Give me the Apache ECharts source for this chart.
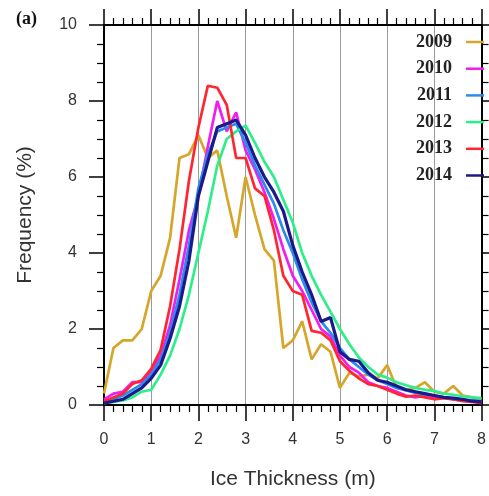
<!DOCTYPE html>
<html>
<head>
<meta charset="utf-8">
<script src="https://cdn.jsdelivr.net/npm/echarts@6/dist/echarts.min.js"></script>
<style>
html,body{margin:0;padding:0;background:#fff;}
#c{width:489px;height:496px;}
</style>
</head>
<body>
<div id="c"></div>
<script>
// Ice thickness bins (m)
var xs = [0,0.2,0.4,0.6,0.8,1.0,1.2,1.4,1.6,1.8,2.0,2.2,2.4,2.6,2.8,3.0,3.2,3.4,3.6,3.8,4.0,4.2,4.4,4.6,4.8,5.0,5.2,5.4,5.6,5.8,6.0,6.2,6.4,6.6,6.8,7.0,7.2,7.4,7.6,7.8,8.0];
var years = ['2009','2010','2011','2012','2013','2014'];
var colors = ['#D6A62A','#F21CF2','#2A8CEE','#2EEE8A','#FF2630','#1A1A8A'];
var xTicks = [0,1,2,3,4,5,6,7,8];
var yTicks = [0,2,4,6,8,10];

var f2009 = [0.3,1.5,1.7,1.7,2.0,3.0,3.4,4.4,6.5,6.6,7.1,6.5,6.7,5.5,4.4,6.0,5.0,4.1,3.8,1.5,1.7,2.2,1.2,1.6,1.4,0.45,0.85,0.75,0.8,0.7,1.05,0.45,0.4,0.45,0.6,0.35,0.3,0.5,0.25,0.2,0.15];
var f2010 = [0.15,0.3,0.35,0.6,0.6,0.9,1.3,2.1,3.3,4.6,5.5,6.8,8.0,7.2,7.7,6.7,6.2,5.6,4.9,4.1,3.4,3.0,2.5,2.0,1.8,1.3,1.0,0.85,0.6,0.5,0.45,0.35,0.25,0.2,0.25,0.2,0.2,0.15,0.12,0.1,0.08];
var f2011 = [0.08,0.15,0.25,0.4,0.55,0.8,1.2,1.9,2.9,4.2,5.7,6.6,7.2,7.3,7.4,6.9,6.3,5.8,5.3,4.6,4.0,3.3,2.7,2.2,1.9,1.5,1.2,1.0,0.8,0.65,0.55,0.45,0.38,0.32,0.28,0.25,0.2,0.17,0.14,0.12,0.1];
var f2012 = [0.05,0.08,0.12,0.2,0.35,0.4,0.8,1.3,2.0,2.9,4.0,5.1,6.3,7.0,7.2,7.35,6.9,6.4,6.0,5.4,4.8,4.0,3.4,2.9,2.45,2.0,1.6,1.25,1.0,0.8,0.72,0.6,0.52,0.45,0.4,0.37,0.3,0.27,0.23,0.2,0.18];
var f2013 = [0.1,0.2,0.3,0.55,0.65,0.95,1.45,2.6,4.1,5.9,7.3,8.4,8.35,7.9,6.5,6.5,5.7,5.5,4.6,3.4,3.0,2.9,1.95,1.9,1.7,1.15,0.9,0.7,0.55,0.5,0.4,0.3,0.22,0.25,0.2,0.15,0.18,0.15,0.1,0.08,0.05];
var f2014 = [0.05,0.1,0.15,0.3,0.45,0.7,1.05,1.75,2.6,3.8,5.5,6.4,7.3,7.4,7.5,7.1,6.5,6.0,5.6,5.1,4.2,3.5,2.9,2.2,2.3,1.4,1.2,1.15,0.85,0.65,0.6,0.5,0.4,0.35,0.3,0.25,0.2,0.18,0.15,0.1,0.08];

var all = [f2009,f2010,f2011,f2012,f2013,f2014];

var chart = echarts.init(document.getElementById('c'), null, {renderer:'canvas'});

function pairs(arr){ return xs.map(function(x,i){ return [x, arr[i]]; }); }

var series = years.map(function(y, k){
  return {
    name: y, type: 'line', data: pairs(all[k]),
    symbol: 'none', smooth: false, z: 2 + k,
    lineStyle: {color: colors[k], width: k === 5 ? 3.2 : 2.7},
    itemStyle: {color: colors[k]}
  };
});

var axisBase = {
  type: 'value',
  axisLine: {show: true, onZero: false, lineStyle: {color: '#000', width: 2}},
  axisTick: {show: true, inside: false, lineStyle: {color: '#000', width: 1.5}},
  minorTick: {show: true, lineStyle: {color: '#000', width: 1.2}},
  minorSplitLine: {show: false}
};

function merge(a, b){ var o = JSON.parse(JSON.stringify(a)); for (var k in b) o[k] = b[k]; return o; }

var option = {
  backgroundColor: '#fff',
  animation: false,
  graphic: [{
    type: 'text', left: 16, top: 10,
    style: {text: '(a)', font: 'bold 18px "Liberation Serif"', fill: '#111'}
  }],
  legend: {
    orient: 'vertical', right: 0, top: 28, align: 'right',
    icon: 'rect', itemWidth: 18, itemHeight: 2.5, itemGap: 8.7,
    data: years,
    textStyle: {fontFamily: 'Liberation Serif', fontWeight: 'bold', fontSize: 18, color: '#222', lineHeight: 18, padding: [0, 9, 0, 0]}
  },
  grid: {left: 104, right: 5, top: 25, bottom: 91, containLabel: false},
  xAxis: [
    merge(axisBase, {
      position: 'bottom', min: xTicks[0], max: xTicks[xTicks.length-1], interval: 1,
      axisTick: {show: true, inside: false, length: 16, lineStyle: {color: '#000', width: 1.5}},
      minorTick: {show: true, splitNumber: 5, length: 7, lineStyle: {color: '#000', width: 1.2}},
      splitLine: {show: true, lineStyle: {color: '#9a9a9a', width: 1}},
      axisLabel: {show: true, margin: 27, fontSize: 16, fontFamily: 'Liberation Sans', color: '#333'},
      name: 'Ice Thickness (m)', nameLocation: 'middle', nameGap: 64,
      nameTextStyle: {fontSize: 21, fontFamily: 'Liberation Sans', color: '#333'}
    }),
    merge(axisBase, {
      position: 'top', min: xTicks[0], max: xTicks[xTicks.length-1], interval: 1,
      axisTick: {show: true, inside: false, length: 16, lineStyle: {color: '#000', width: 1.5}},
      minorTick: {show: true, splitNumber: 5, length: 7, lineStyle: {color: '#000', width: 1.2}},
      splitLine: {show: false},
      axisLabel: {show: false}
    })
  ],
  yAxis: [
    merge(axisBase, {
      position: 'left', min: yTicks[0], max: yTicks[yTicks.length-1], interval: 2,
      axisTick: {show: true, inside: false, length: 15, lineStyle: {color: '#000', width: 1.5}},
      minorTick: {show: true, splitNumber: 4, length: 7, lineStyle: {color: '#000', width: 1.2}},
      splitLine: {show: false},
      axisLabel: {show: true, margin: 27, fontSize: 16, fontFamily: 'Liberation Sans', color: '#333'},
      name: 'Frequency (%)', nameLocation: 'middle', nameGap: 68,
      nameTextStyle: {fontSize: 21, fontFamily: 'Liberation Sans', color: '#333'}
    }),
    merge(axisBase, {
      position: 'right', min: yTicks[0], max: yTicks[yTicks.length-1], interval: 2,
      axisTick: {show: true, inside: false, length: 15, lineStyle: {color: '#000', width: 1.5}},
      minorTick: {show: true, splitNumber: 4, length: 7, lineStyle: {color: '#000', width: 1.2}},
      splitLine: {show: false},
      axisLabel: {show: false}
    })
  ],
  series: series
};
chart.setOption(option);
</script>
</body>
</html>
